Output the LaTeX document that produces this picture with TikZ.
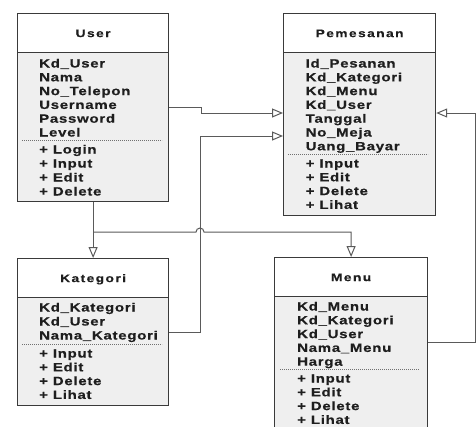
\documentclass[tikz,border=0pt]{standalone}
\usepackage{fontspec}
\setmainfont{Liberation Sans}
\newfontfamily\attrfont{Liberation Sans}[FakeStretch=1.25,LetterSpace=6,FakeBold=0.5]
\newfontfamily\headfont{Liberation Sans}[FakeStretch=1.25,LetterSpace=13,FakeBold=0.4]
\usetikzlibrary{arrows.meta}
\definecolor{boxc}{HTML}{3A3A3A}
\definecolor{bodyc}{HTML}{EFEFEF}
\definecolor{txtc}{HTML}{1E1E1E}
\definecolor{sepc}{HTML}{707070}
\definecolor{connc}{HTML}{5A5A5A}
\begin{document}
\begin{tikzpicture}[x=1pt,y=-1pt,
 classbox/.style={draw=boxc, line width=1.2pt, fill=bodyc, inner sep=0pt, anchor=north west},
 headbox/.style={draw=boxc, line width=1.2pt, fill=white, minimum height=39pt, inner sep=0pt, anchor=north west, text height=8pt, text depth=0pt, font=\headfont\bfseries\fontsize{11}{13}\selectfont, text=txtc},
 attr/.style={anchor=base west, inner sep=0pt, font=\attrfont\bfseries\fontsize{12}{14}\selectfont, text=txtc},
 sepline/.style={draw=sepc, line width=0.8pt, dash pattern=on 1.2pt off 0.8pt},
 conn/.style={draw=connc, line width=1pt},
 gen/.style={conn, -{Triangle[open, fill=white, length=11pt, width=9pt]}}
]
\useasboundingbox (0,0) rectangle (476,426);
\clip (0,0) rectangle (476,426);
\fill[white] (0,0) rectangle (476,426);

% User
\node[classbox, minimum width=151pt, minimum height=188pt] (user) at (17,13) {};
\node[headbox, minimum width=151pt] (userH) at (17,13) {User};
\foreach \t [count=\i from 0] in {Kd\_User, Nama, No\_Telepon, Username, Password, Level}
  \node[attr] (ua\i) at (39, 67.5+13.8*\i) {\t};
\draw[sepline] (22,140) -- (162,140);
\foreach \t [count=\i from 0] in {+ Login, + Input, + Edit, + Delete}
  \node[attr] (um\i) at (39, 153.5+14*\i) {\t};

% Pemesanan
\node[classbox, minimum width=152pt, minimum height=202pt] (pem) at (283,13) {};
\node[headbox, minimum width=152pt] (pemH) at (283,13) {Pemesanan};
\foreach \t [count=\i from 0] in {Id\_Pesanan, Kd\_Kategori, Kd\_Menu, Kd\_User, Tanggal, No\_Meja, Uang\_Bayar}
  \node[attr] (pa\i) at (305.5, 67.5+13.8*\i) {\t};
\draw[sepline] (288,154) -- (428,154);
\foreach \t [count=\i from 0] in {+ Input, + Edit, + Delete, + Lihat}
  \node[attr] (pm\i) at (305.5, 167.5+13.8*\i) {\t};

% Kategori
\node[classbox, minimum width=151pt, minimum height=147pt] (kat) at (17,258) {};
\node[headbox, minimum width=151pt] (katH) at (17,258) {Kategori};
\foreach \t [count=\i from 0] in {Kd\_Kategori, Kd\_User, Nama\_Kategori}
  \node[attr] (ka\i) at (39, 311.5+14*\i) {\t};
\draw[sepline] (22,344) -- (162,344);
\foreach \t [count=\i from 0] in {+ Input, + Edit, + Delete, + Lihat}
  \node[attr] (km\i) at (39, 357.5+13.8*\i) {\t};

% Menu
\node[classbox, minimum width=153pt, minimum height=190pt] (menu) at (274,257) {};
\node[headbox, minimum width=153pt] (menuH) at (274,257) {Menu};
\foreach \t [count=\i from 0] in {Kd\_Menu, Kd\_Kategori, Kd\_User, Nama\_Menu, Harga}
  \node[attr] (ma\i) at (297, 310.5+13.8*\i) {\t};
\draw[sepline] (280,369) -- (419,369);
\foreach \t [count=\i from 0] in {+ Input, + Edit, + Delete, + Lihat}
  \node[attr] (mm\i) at (297, 382.5+13.8*\i) {\t};

% connectors
\coordinate (yA) at (0,113);
\coordinate (yB) at (0,136);
\coordinate (yC) at (0,232);
\coordinate (bendK) at (200,332);
\coordinate (bendM) at (475,342);
\draw[gen] (user.north east) ++(0,94) -- ++(32,0) -- ++(0,6) -- (pem.west |- yA);
\draw[gen] (kat.north east) ++(0,74) -- (bendK) |- (pem.west |- yB);
\draw[gen] (user.south) -- (kat.north);
\draw[gen] (user.south |- yC) -- (196,232) arc (180:360:4) -- (menu.north |- yC) -- (menu.north);
\draw[gen] (menu.north east) ++(0,85) -- (bendM) |- (pem.east |- yA);
\end{tikzpicture}
\end{document}
